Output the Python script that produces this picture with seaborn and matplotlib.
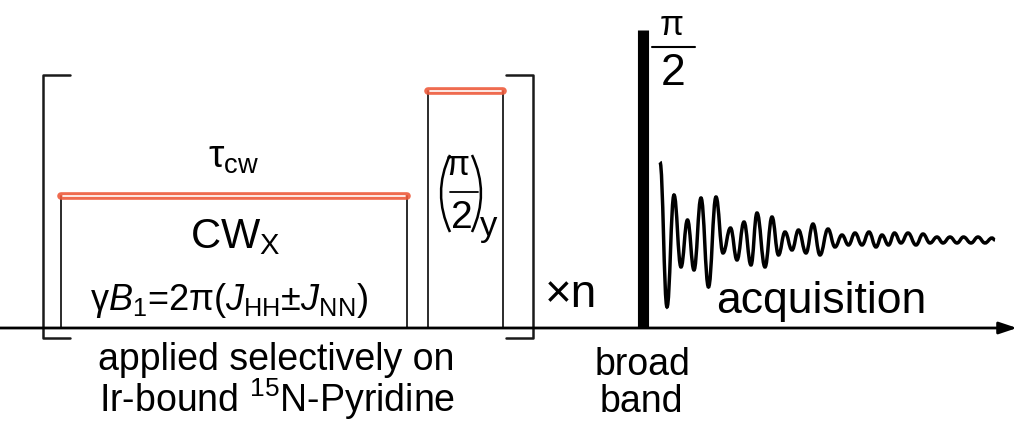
import matplotlib
matplotlib.use("Agg")
import matplotlib.pyplot as plt
import seaborn as sns
from matplotlib.path import Path
from matplotlib.patches import PathPatch

sns.set_theme(style="white")
plt.rcParams['font.family'] = ['Liberation Sans', 'DejaVu Sans']
plt.rcParams['text.color'] = 'black'
plt.rcParams['mathtext.fontset'] = 'custom'
plt.rcParams['mathtext.rm'] = 'Liberation Sans'
plt.rcParams['mathtext.it'] = 'Liberation Sans:italic'
plt.rcParams['mathtext.bf'] = 'Liberation Sans:bold'

# pulse blocks (pixel units of the diagram: x to the right, y downwards)
baseline_y = 328
pulse_names = ['CW', 'pi/2 y']
pulse_start = [61, 428]
pulse_end = [407, 503]
pulse_top = [196, 91]

# broadband hard pulse
bb_x = 643.5
bb_top = 30

# repeat bracket
bracket_left = 43
bracket_right = 533
bracket_top = 75
bracket_bottom = 338

# FID extremes
fid_x = [660, 667, 674, 681, 687.5, 694, 701, 708.5, 716, 723, 730.5, 737, 744, 751,
         757, 765, 772, 778.5, 785, 792, 798.5, 806, 813, 820, 828, 835, 842, 848.5,
         855, 862, 869, 876, 882, 888.5, 894.5, 901, 908, 916, 923, 930, 937, 943,
         950, 957, 963.5, 971, 978, 985, 992, 995]
fid_y = [162, 307, 195, 267, 220, 270, 198, 287, 197, 253, 228, 260, 222, 265,
         213, 267, 217, 255, 232, 250, 230, 253, 224, 255, 229, 247, 235, 245,
         233, 245, 232, 247, 235, 245, 233, 243, 233, 245, 234, 243, 237, 243,
         237, 243, 237, 243, 237, 243, 238, 240]

red = '#EE5B3C'
ink = '#1a1a1a'

fig = plt.figure(figsize=(10.18, 4.24), dpi=100)
ax = fig.add_axes([0, 0, 1, 1])
ax.set_xlim(0, 1018)
ax.set_ylim(424, 0)
ax.axis('off')

# time axis
ax.annotate('', xy=(1017, baseline_y), xytext=(0, baseline_y),
            arrowprops=dict(arrowstyle='-|>,head_length=0.9,head_width=0.3',
                            lw=2.0, color='black', shrinkA=0, shrinkB=0))

# pulse boxes
for s, e, t in zip(pulse_start, pulse_end, pulse_top):
    ax.plot([s, s], [baseline_y, t], color=ink, lw=1.3)
    ax.plot([e, e], [baseline_y, t], color=ink, lw=1.3)
    ax.plot([s, e], [t, t], color=red, lw=5.5, solid_capstyle='round', alpha=0.9)
    ax.plot([s + 2, e - 2], [t, t], color='white', lw=1.2, solid_capstyle='round')

# repeat brackets
ax.plot([70, bracket_left, bracket_left, 70],
        [bracket_top, bracket_top, bracket_bottom, bracket_bottom], color=ink, lw=1.8)
ax.plot([506, bracket_right, bracket_right, 506],
        [bracket_top, bracket_top, bracket_bottom, bracket_bottom], color=ink, lw=1.8)

# broadband pulse
ax.plot([bb_x, bb_x], [baseline_y, bb_top], color='black', lw=8, solid_capstyle='butt')

# FID drawn as smooth bezier through extremes
verts = [(fid_x[0], fid_y[0])]
codes = [Path.MOVETO]
for i in range(1, len(fid_x)):
    x0, y0, x1, y1 = fid_x[i - 1], fid_y[i - 1], fid_x[i], fid_y[i]
    dx = x1 - x0
    verts += [(x0 + 0.42 * dx, y0), (x1 - 0.42 * dx, y1), (x1, y1)]
    codes += [Path.CURVE4] * 3
ax.add_patch(PathPatch(Path(verts, codes), fill=False, lw=2.5, edgecolor='black'))

# labels inside the CW block
ax.text(234, 168, r'τ$_{\mathrm{cw}}$', fontsize=28, ha='center', va='baseline')
ax.text(235, 248, r'CW$_{\mathrm{X}}$', fontsize=30, ha='center', va='baseline')
ax.text(229, 310, r'γ$B_1$=2π($J_{\mathrm{HH}}$±$J_{\mathrm{NN}}$)', fontsize=26,
        ha='center', va='baseline')

# (pi/2)_y inside the second block
ax.text(458, 175, 'π', fontsize=25, ha='center', va='baseline')
ax.plot([450, 478], [192, 192], color='black', lw=1.3)
ax.text(462, 228, '2', fontsize=28, ha='center', va='baseline')
paren_l = Path([(450, 155), (432, 193), (450, 232)], [Path.MOVETO, Path.CURVE3, Path.CURVE3])
paren_r = Path([(472, 155), (490, 193), (472, 232)], [Path.MOVETO, Path.CURVE3, Path.CURVE3])
ax.add_patch(PathPatch(paren_l, fill=False, lw=1.8, edgecolor='black'))
ax.add_patch(PathPatch(paren_r, fill=False, lw=1.8, edgecolor='black'))
ax.text(489, 236, 'y', fontsize=25, ha='center', va='baseline')

ax.text(571, 307, '×n', fontsize=33, ha='center', va='baseline')

# pi/2 over the broadband pulse
ax.text(672, 35, 'π', fontsize=25, ha='center', va='baseline')
ax.plot([652, 695], [47, 47], color='black', lw=1.5)
ax.text(673, 85, '2', fontsize=32, ha='center', va='baseline')

ax.text(821, 313, 'acquisition', fontsize=32, ha='center', va='baseline')
ax.text(276, 370, 'applied selectively on', fontsize=27, ha='center', va='baseline')
ax.text(277, 412, r'Ir-bound $^{15}$N-Pyridine', fontsize=27, ha='center', va='baseline')
ax.text(643, 375, 'broad', fontsize=27, ha='center', va='baseline')
ax.text(641, 412, 'band', fontsize=27, ha='center', va='baseline')

fig.savefig('out.png', dpi=100)
